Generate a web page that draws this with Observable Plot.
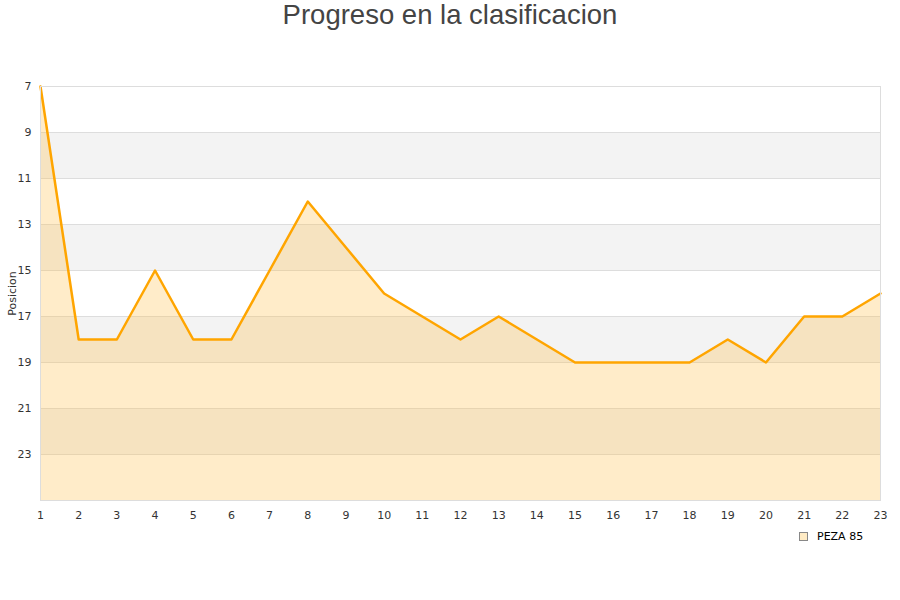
<!DOCTYPE html>
<html>
<head>
<meta charset="utf-8">
<script src="https://cdn.jsdelivr.net/npm/d3@7"></script>
<script src="https://cdn.jsdelivr.net/npm/@observablehq/plot@0.6"></script>
<style>
  body { margin: 0; background: #fff; width: 900px; height: 600px; position: relative; overflow: hidden; }
  #title { position: absolute; top: -1px; left: 0; width: 900px; text-align: center; font-family: "Liberation Sans", Arial, sans-serif; font-size: 27.5px; color: #444; line-height: 32px; }
  #chart { position: absolute; top: 40px; left: 0; }
  #legend { position: absolute; top: 530px; left: 799px; font-family: "DejaVu Sans", sans-serif; font-size: 11px; color: #000; display: flex; align-items: center; }
  #legend .sw { width: 7px; height: 7px; background: #FFEBC4; border: 1px solid #888; margin-right: 9px; }
</style>
</head>
<body>
<div id="title">Progreso en la clasificacion</div>
<div id="chart"></div>
<div id="legend"><span class="sw"></span><span>PEZA 85</span></div>
<script>
const jornadas = [1,2,3,4,5,6,7,8,9,10,11,12,13,14,15,16,17,18,19,20,21,22,23];
const posiciones = [7,18,18,15,18,18,15,12,14,16,17,18,17,18,19,19,19,19,18,19,17,17,16];
const yTicks = [7,9,11,13,15,17,19,21,23];
const bandStarts = [9,13,17,21];
const seriesName = "PEZA 85";

const data = jornadas.map((j, i) => ({j, pos: posiciones[i]}));
const bands = bandStarts.map(s => ({y1: s, y2: s + 2}));

const chart = Plot.plot({
  width: 900,
  height: 490,
  marginTop: 46,
  marginBottom: 30,
  marginLeft: 40,
  marginRight: 20,
  style: { fontFamily: "DejaVu Sans, sans-serif", fontSize: "11px", color: "#555", background: "#fff" },
  x: { domain: [1, 23] },
  y: { domain: [7, 25], reverse: true },
  marks: [
    Plot.rectY(bands, { x1: 1, x2: 23, y1: "y1", y2: "y2", fill: "#f3f3f3" }),
    Plot.ruleY(yTicks, { stroke: "#dddddd", strokeWidth: 1 }),
    Plot.areaY(data, { x: "j", y1: 25, y2: "pos", fill: "#FFC04D", fillOpacity: 0.3 }),
    Plot.line(data, { x: "j", y: "pos", stroke: "#FFA500", strokeWidth: 2.5 }),
    Plot.frame({ stroke: "#dddddd" }),
    Plot.axisY({ ticks: yTicks, tickSize: 0, tickPadding: 9, label: "Posicion", labelAnchor: "center", labelArrow: "none", labelOffset: 32, fill: "#333" }),
    Plot.axisX({ ticks: jornadas, tickSize: 0, tickPadding: 11, label: null, fill: "#333" })
  ]
});
document.getElementById("chart").appendChild(chart);
</script>
</body>
</html>
